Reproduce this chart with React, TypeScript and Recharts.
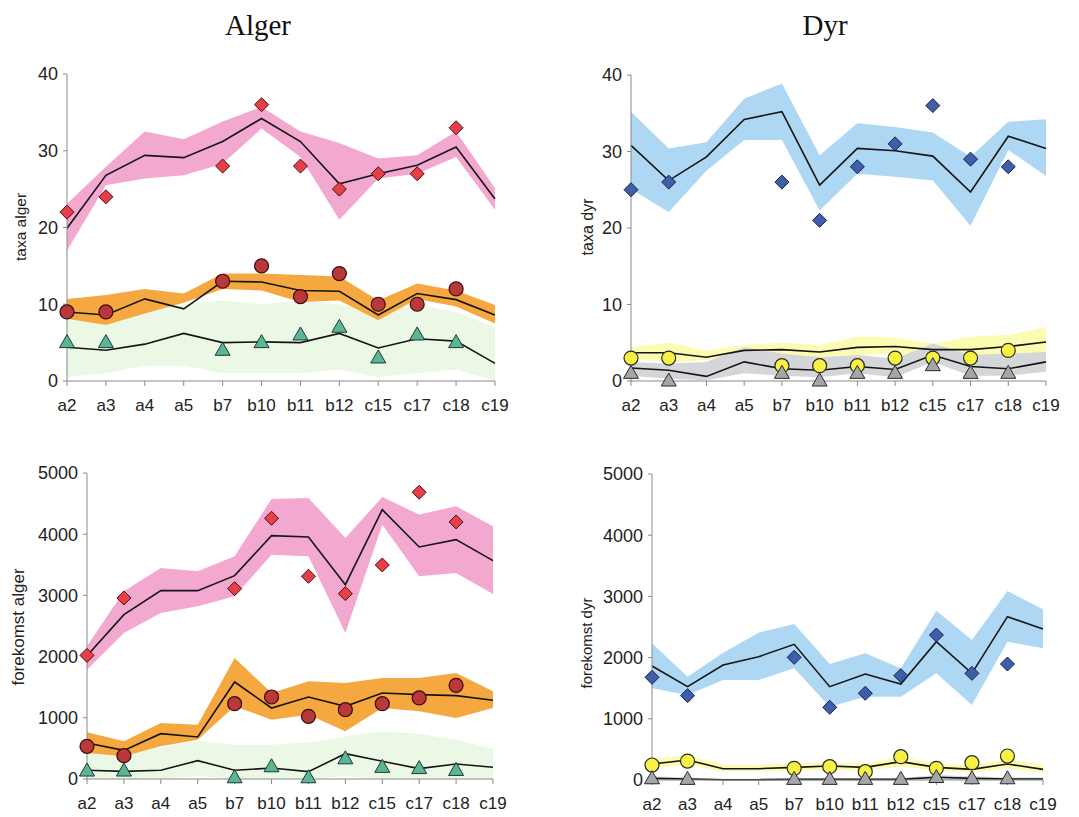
import { ComposedChart, Area, Line, XAxis, YAxis } from "recharts";

const sites = ["a2", "a3", "a4", "a5", "b7", "b10", "b11", "b12", "c15", "c17", "c18", "c19"];
const taxaTicks = [0, 10, 20, 30, 40];
const forekomstTicks = [0, 1000, 2000, 3000, 4000, 5000];

// taxa alger
const taLo1 = [17.0, 25.5, 26.4, 26.8, 28.3, 32.9, 29.2, 21.0, 26.4, 27.0, 29.2, 22.3];
const taHi1 = [23.1, 27.9, 32.5, 31.5, 33.8, 35.7, 32.5, 31.0, 29.0, 29.4, 32.5, 25.1];
const taMean1 = [19.9, 26.8, 29.4, 29.1, 31.2, 34.2, 31.2, 25.7, 27.0, 28.1, 30.5, 23.7];
const taObs1 = [22, 24, null, null, 28, 36, 28, 25, 27, 27, 33, null];
const taLo2 = [8.1, 7.3, 8.8, 10.2, 12.0, 11.8, 10.3, 10.5, 7.9, 10.7, 9.7, 7.5];
const taHi2 = [10.7, 11.2, 12.0, 11.4, 14.0, 14.0, 13.8, 13.6, 10.5, 12.7, 11.8, 9.9];
const taMean2 = [9.0, 8.6, 10.7, 9.4, 13.0, 12.9, 11.8, 11.7, 8.6, 11.4, 10.6, 8.6];
const taObs2 = [9, 9, null, null, 13, 15, 11, 14, 10, 10, 12, null];
const taLo3 = [0.5, 1, 2, 2, 1, 1, 1, 1.5, 0.5, 1, 1.5, 0];
const taHi3 = [8, 8.5, 9, 10, 10.5, 10, 10.5, 10, 9, 10, 9, 7];
const taMean3 = [4.4, 4.0, 4.8, 6.2, 5.0, 5.1, 5.0, 6.2, 4.3, 5.5, 5.2, 2.3];
const taObs3 = [5, 5, null, null, 4, 5, 6, 7, 3, 6, 5, null];

// taxa dyr
const tdLo1 = [25.1, 22.1, 27.5, 31.5, 31.5, 22.3, 27.1, 26.7, 26.2, 20.3, 30.2, 26.8];
const tdHi1 = [35.2, 30.4, 31.2, 36.9, 38.9, 29.5, 33.7, 33.2, 32.5, 29.3, 33.9, 34.2];
const tdMean1 = [30.8, 26.2, 29.3, 34.2, 35.2, 25.6, 30.4, 30.1, 29.4, 24.7, 32.0, 30.4];
const tdObs1 = [25, 26, null, null, 26, 21, 28, 31, 36, 29, 28, null];
const tdLo2 = [2.9, 2.5, 2.7, 3.1, 3.4, 3.1, 3.4, 3.6, 3.1, 2.9, 3.4, 3.6];
const tdHi2 = [4.4, 5.0, 4.0, 4.7, 5.0, 4.7, 5.8, 5.7, 4.9, 5.8, 6.0, 7.1];
const tdMean2 = [3.7, 3.7, 3.1, 4.0, 4.1, 3.8, 4.4, 4.5, 4.1, 4.1, 4.5, 5.1];
const tdObs2 = [3, 3, null, null, 2, 2, 2, 3, 3, 3, 4, null];
const tdLo3 = [0.7, 0.3, 0.1, 1.0, 0.7, 0.5, 1.0, 0.5, 2.5, 0.7, 0.7, 1.2];
const tdHi3 = [2.5, 2.3, 2.5, 4.4, 3.6, 3.1, 3.4, 2.9, 4.9, 3.4, 3.6, 3.8];
const tdMean3 = [1.7, 1.4, 0.6, 2.5, 1.6, 1.4, 1.9, 1.5, 3.4, 1.9, 1.6, 2.5];
const tdObs3 = [1, 0, null, null, 1, 0, 1, 1, 2, 1, 1, null];

// forekomst alger
const faLo1 = [1787, 2386, 2713, 2822, 2985, 3666, 3639, 2386, 4156, 3312, 3367, 3023];
const faHi1 = [2168, 3067, 3448, 3394, 3639, 4576, 4592, 3938, 4608, 4320, 4456, 4129];
const faMean1 = [2015, 2685, 3078, 3078, 3323, 3976, 3955, 3176, 4401, 3791, 3911, 3568];
const faObs1 = [2020, 2958, null, null, 3110, 4260, 3312, 3029, 3497, 4685, 4200, null];
const faLo2 = [425, 370, 534, 643, 1187, 970, 1051, 779, 1160, 1106, 997, 1160];
const faHi2 = [763, 616, 915, 888, 1977, 1405, 1596, 1569, 1650, 1650, 1732, 1432];
const faMean2 = [588, 468, 741, 686, 1585, 1160, 1340, 1187, 1405, 1378, 1362, 1286];
const faObs2 = [534, 381, null, null, 1231, 1340, 1024, 1133, 1231, 1324, 1531, null];
const faLo3 = [0, 0, 0, 50, 0, 0, 0, 50, 0, 0, 0, 0];
const faHi3 = [500, 420, 520, 620, 560, 560, 600, 700, 780, 740, 640, 500];
const faMean3 = [142, 125, 142, 300, 142, 180, 120, 414, 289, 169, 245, 191];
const faObs3 = [130, 130, null, null, 20, 200, 20, 330, 190, 170, 140, null];

// forekomst dyr
const fdLo1 = [1498, 1389, 1634, 1634, 1825, 1198, 1362, 1362, 1743, 1225, 2260, 2151];
const fdHi1 = [2233, 1689, 2081, 2407, 2549, 1896, 2070, 1825, 2767, 2288, 3088, 2789];
const fdMean1 = [1863, 1525, 1879, 2015, 2217, 1525, 1732, 1569, 2260, 1743, 2669, 2467];
const fdObs1 = [1678, 1378, null, null, 2004, 1187, 1416, 1705, 2369, 1743, 1895, null];
const fdLo2 = [190, 250, 140, 140, 150, 170, 150, 220, 150, 120, 190, 120];
const fdHi2 = [350, 410, 250, 250, 270, 290, 270, 380, 270, 240, 340, 250];
const fdMean2 = [261, 327, 185, 185, 207, 229, 207, 300, 207, 174, 261, 174];
const fdObs2 = [245, 310, null, null, 190, 218, 136, 381, 190, 283, 392, null];
const fdLo3 = [0, 0, 0, 0, 0, 0, 0, 0, 0, 0, 0, 0];
const fdHi3 = [60, 40, 20, 20, 30, 30, 30, 30, 80, 60, 40, 40];
const fdMean3 = [27, 16, 5, 5, 11, 11, 11, 11, 44, 27, 16, 16];
const fdObs3 = [20, 10, null, null, 10, 10, 10, 10, 40, 20, 20, null];

type Marker = "diamond" | "circle" | "triangle";
type Series = {
  key: string; lo: number[]; hi: number[]; mean: number[]; obs: (number | null)[];
  band: string; marker: Marker; mFill: string; mStroke: string;
};

const FONT = "'Liberation Sans', Arial, sans-serif";

function makeDot(marker: Marker, fill: string, stroke: string) {
  return (props: any) => {
    const { cx, cy, value, index } = props;
    if (value == null || cy == null || cx == null) return <g key={index} />;
    if (marker === "diamond") {
      const r = 7;
      return <polygon key={index} points={`${cx},${cy - r} ${cx + r},${cy} ${cx},${cy + r} ${cx - r},${cy}`} fill={fill} stroke={stroke} strokeWidth={1} />;
    }
    if (marker === "circle") {
      return <circle key={index} cx={cx} cy={cy} r={7} fill={fill} stroke={stroke} strokeWidth={1.2} />;
    }
    return <polygon key={index} points={`${cx},${cy - 8} ${cx + 7.5},${cy + 5} ${cx - 7.5},${cy + 5}`} fill={fill} stroke={stroke} strokeWidth={1} />;
  };
}

function Panel({ plot, series, yMax, ticks }: { plot: [number, number, number, number]; series: Series[]; yMax: number; ticks: number[] }) {
  const [px, py, pw, ph] = plot;
  const data = sites.map((s, i) => {
    const row: any = { site: s };
    series.forEach((se) => {
      row[se.key + "Band"] = [se.lo[i], se.hi[i]];
      row[se.key + "Mean"] = se.mean[i];
      row[se.key + "Obs"] = se.obs[i];
    });
    return row;
  });
  const yw = 70;
  return (
    <div style={{ position: "absolute", left: px - yw, top: py - 12 }}>
      <ComposedChart width={pw + yw + 30} height={ph + 12 + 45} data={data} margin={{ top: 12, right: 30, bottom: 0, left: 0 }}>
        <XAxis dataKey="site" scale="point" padding={{ left: 0, right: 0 }} height={45} interval={0}
          tickSize={5} tickMargin={13} stroke="#8a8a8a" tick={{ fill: "#222", fontSize: 17, fontFamily: FONT }} />
        <YAxis type="number" domain={[0, yMax]} ticks={ticks} width={yw}
          tickSize={4} tickMargin={5} stroke="#8a8a8a" tick={{ fill: "#222", fontSize: 18, fontFamily: FONT }} />
        {series.map((se) => (
          <Area key={se.key + "b"} dataKey={se.key + "Band"} type="linear" fill={se.band} fillOpacity={1}
            stroke="none" dot={false} activeDot={false} isAnimationActive={false} />
        ))}
        {series.map((se) => (
          <Line key={se.key + "m"} dataKey={se.key + "Mean"} type="linear" stroke="#151515" strokeWidth={1.6}
            dot={false} activeDot={false} isAnimationActive={false} />
        ))}
        {series.map((se) => (
          <Line key={se.key + "o"} dataKey={se.key + "Obs"} stroke="none" strokeWidth={0}
            dot={makeDot(se.marker, se.mFill, se.mStroke)} activeDot={false} isAnimationActive={false} />
        ))}
      </ComposedChart>
    </div>
  );
}

const PINK = "#f3a9cf";
const ORANGE = "#f6a840";
const PALEGREEN = "#ecf8e6";
const BLUE = "#aed7f3";
const YELLOW = "#fcfbb2";
const GREY = "#d5d6d9";

const redDia = { marker: "diamond" as Marker, mFill: "#e63f48", mStroke: "#4a0d10" };
const redCirc = { marker: "circle" as Marker, mFill: "#b9383a", mStroke: "#3a0b0b" };
const tealTri = { marker: "triangle" as Marker, mFill: "#5db598", mStroke: "#1b3a30" };
const blueDia = { marker: "diamond" as Marker, mFill: "#3f5ea9", mStroke: "#18224a" };
const yelCirc = { marker: "circle" as Marker, mFill: "#f6f142", mStroke: "#2a2a2a" };
const greyTri = { marker: "triangle" as Marker, mFill: "#a6a6a8", mStroke: "#2a2a2a" };

const algerSeries = (lo1: number[], hi1: number[], m1: number[], o1: any[], lo2: number[], hi2: number[], m2: number[], o2: any[], lo3: number[], hi3: number[], m3: number[], o3: any[]): Series[] => [
  { key: "green", lo: lo3, hi: hi3, mean: m3, obs: o3, band: PALEGREEN, ...tealTri },
  { key: "orange", lo: lo2, hi: hi2, mean: m2, obs: o2, band: ORANGE, ...redCirc },
  { key: "pink", lo: lo1, hi: hi1, mean: m1, obs: o1, band: PINK, ...redDia },
];
const dyrSeries = (lo1: number[], hi1: number[], m1: number[], o1: any[], lo2: number[], hi2: number[], m2: number[], o2: any[], lo3: number[], hi3: number[], m3: number[], o3: any[]): Series[] => [
  { key: "blue", lo: lo1, hi: hi1, mean: m1, obs: o1, band: BLUE, ...blueDia },
  { key: "yellow", lo: lo2, hi: hi2, mean: m2, obs: o2, band: YELLOW, ...yelCirc },
  { key: "grey", lo: lo3, hi: hi3, mean: m3, obs: o3, band: GREY, ...greyTri },
];

export default function App() {
  return (
    <div style={{ position: "absolute", left: 0, top: 0, width: 1079, height: 817, background: "#fff", overflow: "hidden" }}>
      <Panel plot={[67, 74, 428, 307]} yMax={40} ticks={taxaTicks}
        series={algerSeries(taLo1, taHi1, taMean1, taObs1, taLo2, taHi2, taMean2, taObs2, taLo3, taHi3, taMean3, taObs3)} />
      <Panel plot={[631, 75, 415, 306]} yMax={40} ticks={taxaTicks}
        series={dyrSeries(tdLo1, tdHi1, tdMean1, tdObs1, tdLo2, tdHi2, tdMean2, tdObs2, tdLo3, tdHi3, tdMean3, tdObs3)} />
      <Panel plot={[87, 473, 406, 306]} yMax={5000} ticks={forekomstTicks}
        series={algerSeries(faLo1, faHi1, faMean1, faObs1, faLo2, faHi2, faMean2, faObs2, faLo3, faHi3, faMean3, faObs3)} />
      <Panel plot={[652, 474, 391, 306]} yMax={5000} ticks={forekomstTicks}
        series={dyrSeries(fdLo1, fdHi1, fdMean1, fdObs1, fdLo2, fdHi2, fdMean2, fdObs2, fdLo3, fdHi3, fdMean3, fdObs3)} />
      <svg width={1079} height={817} style={{ position: "absolute", left: 0, top: 0, pointerEvents: "none" }}>
        <text x={258} y={35} textAnchor="middle" fontFamily="'Liberation Serif', 'Times New Roman', serif" fontSize={29} fill="#111">Alger</text>
        <text x={825} y={35} textAnchor="middle" fontFamily="'Liberation Serif', 'Times New Roman', serif" fontSize={29} fill="#111">Dyr</text>
        <text transform="translate(20,227) rotate(-90)" textAnchor="middle" dominantBaseline="central" fontFamily={FONT} fontSize={15.5} fill="#222">taxa alger</text>
        <text transform="translate(587,227) rotate(-90)" textAnchor="middle" dominantBaseline="central" fontFamily={FONT} fontSize={16} fill="#222">taxa dyr</text>
        <text transform="translate(18,627) rotate(-90)" textAnchor="middle" dominantBaseline="central" fontFamily={FONT} fontSize={17} fill="#222">forekomst alger</text>
        <text transform="translate(586,643) rotate(-90)" textAnchor="middle" dominantBaseline="central" fontFamily={FONT} fontSize={15} fill="#222">forekomst dyr</text>
      </svg>
    </div>
  );
}
